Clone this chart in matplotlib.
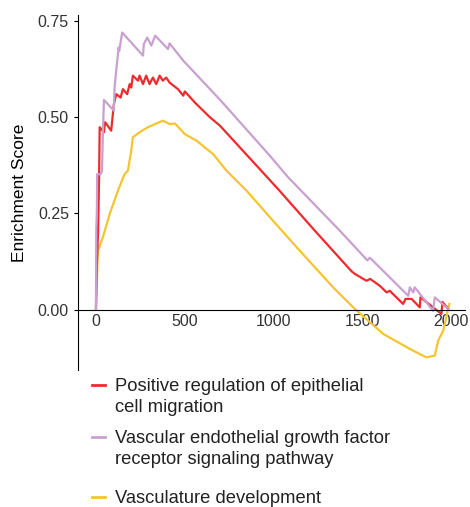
import matplotlib.pyplot as plt
from matplotlib.lines import Line2D

plt.rcParams['font.family'] = ['Liberation Sans', 'DejaVu Sans']

# running enrichment scores
red_x = [0, 5, 12, 18, 21, 45, 52, 86, 101, 115, 139, 152, 176, 190, 199, 208,
         237, 246, 265, 283, 302, 321, 340, 359, 377, 396, 415, 462, 492, 501,
         558, 642, 699, 1027, 1234, 1440, 1459, 1525, 1545, 1600, 1638, 1656,
         1731, 1745, 1779, 1825, 1829, 1947, 1953, 1985]
red_y = [0, 0.12, 0.2, 0.35, 0.474, 0.461, 0.487, 0.465, 0.534, 0.560, 0.551,
         0.573, 0.560, 0.586, 0.577, 0.608, 0.595, 0.608, 0.586, 0.608, 0.586,
         0.603, 0.586, 0.608, 0.595, 0.603, 0.590, 0.573, 0.556, 0.567, 0.538,
         0.500, 0.478, 0.313, 0.205, 0.100, 0.093, 0.075, 0.080, 0.062, 0.045,
         0.049, 0.015, 0.028, 0.028, 0.006, 0.032, -0.011, 0.020, 0.002]

purple_x = [0, 2, 5, 7, 26, 34, 39, 45, 101, 105, 115, 128, 131, 148, 265, 270,
            289, 312, 334, 406, 415, 492, 700, 980, 1083, 1375, 1530, 1544,
            1675, 1760, 1769, 1788, 1797, 1900, 1910, 1985]
purple_y = [0, 0.21, 0.25, 0.352, 0.352, 0.36, 0.456, 0.545, 0.517, 0.577,
            0.625, 0.681, 0.672, 0.72, 0.66, 0.69, 0.707, 0.686, 0.712, 0.677,
            0.692, 0.647, 0.545, 0.40, 0.344, 0.205, 0.128, 0.135, 0.075,
            0.036, 0.058, 0.045, 0.058, -0.003, 0.032, 0.002]

yellow_x = [0, 2, 11, 39, 77, 124, 161, 180, 199, 208, 250, 293, 377, 417,
            445, 501, 567, 661, 736, 849, 1000, 1149, 1337, 1459, 1619, 1769,
            1863, 1910, 1929, 1957, 1985, 1992]
yellow_y = [0, 0.023, 0.153, 0.188, 0.248, 0.309, 0.352, 0.361, 0.413, 0.448,
            0.462, 0.474, 0.491, 0.482, 0.484, 0.456, 0.439, 0.404, 0.361,
            0.309, 0.230, 0.153, 0.058, 0.002, -0.063, -0.102, -0.124, -0.119,
            -0.080, -0.055, 0.002, 0.015]

labels = ['Positive regulation of epithelial\ncell migration',
          'Vascular endothelial growth factor\nreceptor signaling pathway',
          'Vasculature development']
colors = ['#EE2A2E', '#C9A0CF', '#F4C52F']

fig = plt.figure(figsize=(4.7, 5.07), dpi=100)
ax = fig.add_axes([0.166, 0.270, 0.823, 0.700])

ax.plot(yellow_x, yellow_y, color=colors[2], linewidth=1.6)
ax.plot(red_x, red_y, color=colors[0], linewidth=1.6)
ax.plot(purple_x, purple_y, color=colors[1], linewidth=1.6)

ax.set_xlim(-101, 2079)
ax.set_ylim(-0.157, 0.765)
ax.spines['top'].set_visible(False)
ax.spines['right'].set_visible(False)
ax.spines['bottom'].set_position(('data', 0))
ax.set_xticks([0, 500, 1000, 1500, 2000])
ax.set_yticks([0, 0.25, 0.5, 0.75])
ax.set_yticklabels(['0.00', '0.25', '0.50', '0.75'])
ax.tick_params(labelsize=11.5, colors='black', length=3, labelcolor='#333333')
ax.tick_params(axis='x', length=0, pad=3)
ax.set_ylabel('Enrichment Score', fontsize=12.5, labelpad=8)

# legend drawn below the axes, handle aligned to first text line
row_px = [385, 437, 497]
for lab, col, py in zip(labels, colors, row_px):
    yf = 1 - py / 507
    fig.add_artist(Line2D([92 / 470, 105 / 470], [yf, yf], color=col,
                          linewidth=2, transform=fig.transFigure))
    fig.text(115 / 470, yf + 0.014, lab, fontsize=13.2, va='top', ha='left',
             linespacing=1.35, color='#222222')

fig.savefig('out.png', dpi=100)
